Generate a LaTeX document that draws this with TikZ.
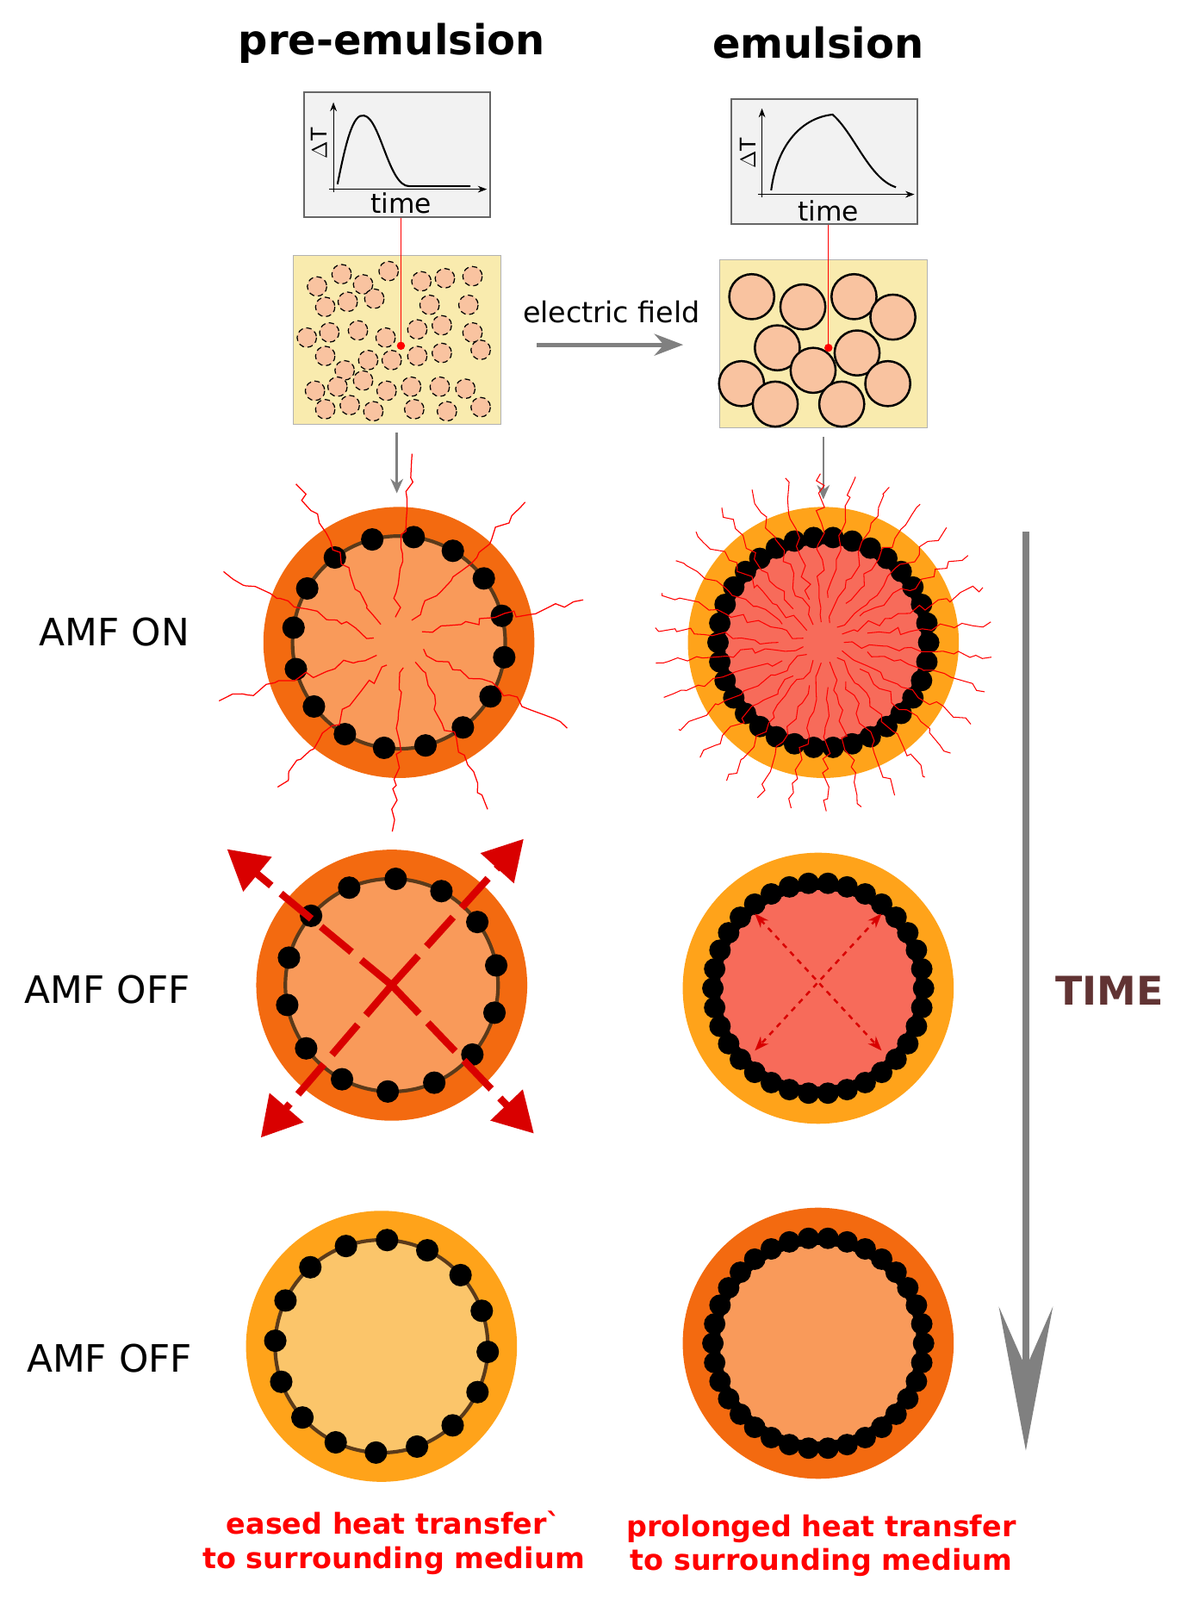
\documentclass[tikz,border=0pt]{standalone}
\usepackage{fontspec}
\setmainfont{DejaVu Sans}
\usetikzlibrary{arrows.meta,decorations.pathmorphing}
\definecolor{hotred}{HTML}{F36A10}
\definecolor{amber}{HTML}{FFA31A}
\definecolor{salmon}{HTML}{F99A5A}
\definecolor{coral}{HTML}{F76B5A}
\definecolor{paleor}{HTML}{FBC56A}
\definecolor{sand}{HTML}{F9EBAE}
\definecolor{drop}{HTML}{F9C3A0}
\definecolor{ring}{HTML}{5A3A1A}
\tikzstyle{disc}=[circle,inner sep=0pt,minimum size=5.3cm]
\tikzstyle{dot}=[fill=black]
\tikzstyle{plot}=[draw=gray!80!black,fill=gray!10,line width=1pt,minimum width=3.64cm,minimum height=2.44cm]
\tikzstyle{sample}=[draw=gray!60,fill=sand,minimum width=4.06cm,minimum height=3.3cm]
\tikzstyle{feed}=[gray,line width=1.2pt,-{Stealth[length=8pt,width=7pt]}]
\tikzstyle{amf}=[font=\fontsize{21}{24}\selectfont]
\tikzstyle{heat}=[red,font=\bfseries\fontsize{16}{19}\selectfont,align=center]
\tikzstyle{wave}=[red,line width=0.6pt,decorate,decoration={random steps,segment length=5pt,amplitude=2.5pt}]

\begin{document}
\begin{tikzpicture}[x=0.02cm,y=-0.02cm]
\useasboundingbox (0,0) rectangle (1160,1564);

% titles
\node (tpre) at (383,42) [font=\bfseries\fontsize{23}{27}\selectfont] {pre-emulsion};
\node (temu) at (800,42) [font=\bfseries\fontsize{23}{27}\selectfont] {emulsion};

% plots
\node (gl) at (388,151) [plot] {};
\node (gr) at (806,158) [plot] {};
\draw[-{Stealth[length=5pt]}] (326,188) -- (326,100);
\draw[-{Stealth[length=5pt]}] (322,185) -- (476,185);
\draw[line width=1pt] (330,180) .. controls (338,140) and (345,110) .. (356,113)
  .. controls (372,116) and (380,182) .. (400,182) -- (460,182);
\node at (312,140) [rotate=90,font=\fontsize{12}{14}\selectfont] {$\Delta$T};
\node at (392,199) [font=\fontsize{15}{17}\selectfont] {time};
\draw[-{Stealth[length=5pt]}] (745,193) -- (745,106);
\draw[-{Stealth[length=5pt]}] (741,190) -- (894,190);
\draw[line width=1pt] (754,186) .. controls (760,140) and (785,115) .. (814,112)
  .. controls (835,130) and (850,175) .. (876,183);
\node at (731,150) [rotate=90,font=\fontsize{12}{14}\selectfont] {$\Delta$T};
\node at (810,206) [font=\fontsize{15}{17}\selectfont] {time};

% samples
\node (sl) at (388,332) [sample] {};
\node (sr) at (805,336) [sample] {};
\foreach \p in {(310,280),(334,268),(355,278),(380,265),(412,275),(435,272),(462,270),
  (318,300),(340,295),(366,292),(420,298),(458,298),
  (300,330),(322,325),(350,323),(377,330),(408,322),(432,318),(462,325),
  (318,348),(337,362),(360,352),(383,352),(408,348),(432,345),(470,342),
  (308,382),(330,378),(355,372),(378,382),(402,378),(430,378),(455,380),
  (318,400),(342,396),(365,402),(405,400),(437,402),(470,398)}
  \draw[fill=drop,densely dashed,line width=0.6pt] \p circle (9.5);
\foreach \p in {(735,290),(785,300),(835,290),(873,310),(760,340),(838,345),
  (725,375),(795,362),(868,375),(758,395),(823,395)}
  \draw[fill=drop,line width=1.2pt] \p circle (22);
\coordinate (pl) at (392,338);
\coordinate (pr) at (810,340);
\draw[red] (gl.south -| pl) -- (pl);
\draw[red] (gr.south -| pr) -- (pr);
\fill[red] (pl) circle (4);
\fill[red] (pr) circle (4);

% electric field
\coordinate (ef1) at (525,337);
\coordinate (ef2) at (668,337);
\draw[gray,line width=2.5pt,-{Stealth[length=16pt,width=12pt]}] (ef1) -- (ef2);
\node at (598,305) [font=\fontsize{16}{19}\selectfont] {electric field};

% droplets
\node (l1) at (390,628) [disc,fill=hotred] {};
\node (l2) at (383,963) [disc,fill=hotred] {};
\node (l3) at (373,1316) [disc,fill=amber] {};
\node (r1) at (805,628) [disc,fill=amber] {};
\node (r2) at (800,966) [disc,fill=amber] {};
\node (r3) at (800,1313) [disc,fill=hotred] {};

\draw[feed] ([yshift=-0.16cm]sl.south) -- ([yshift=0.26cm]sl.south |- l1.north);
\draw[feed] ([yshift=-0.16cm]sr.south) -- ([yshift=0.14cm]sr.south |- r1.north);

% inner cores, sparse shells
\foreach \c/\col/\n/\o in {l1/salmon/16/8,l2/salmon/14/15,l3/paleor/16/3}{
  \draw[ring,line width=2pt,fill=\col] (\c) circle (104);
  \foreach \i in {1,...,\n}
    \fill[dot] ([shift={(\o+\i*360/\n:104)}]\c.center) circle (11);
}
% inner cores, dense shells
\foreach \c/\col in {r1/coral,r2/coral,r3/salmon}{
  \fill[black] (\c) circle (104);
  \fill[\col] (\c) circle (96);
  \foreach \i in {1,...,34}
    \fill[dot] ([shift={(\i*360/34:103)}]\c.center) circle (10.5);
}

% heating
\foreach \a in {15,50,80,118,150,190,225,262,300,335}
  \draw[wave] ([shift={(\a:25)}]l1.center) -- ([shift={(\a+12:185)}]l1.center);
\foreach \a in {0,12,...,348}
  \draw[wave,line width=0.5pt] ([shift={(\a:{20+mod(\a,24)*2})}]r1.center) -- ([shift={(\a+5:165)}]r1.center);

% dissipation
\tikzstyle{blast}=[red!85!black,line width=4pt,dash pattern=on 22pt off 7pt,-{Triangle[length=22pt,width=24pt]}]
\coordinate (b1) at (222,830);
\coordinate (b2) at (512,820);
\coordinate (b3) at (255,1112);
\coordinate (b4) at (522,1108);
\foreach \b in {b1,b2,b3,b4}
  \draw[blast] (l2.center) -- (\b);
\coordinate (s1) at (738,893);
\coordinate (s2) at (862,893);
\coordinate (s3) at (738,1027);
\coordinate (s4) at (862,1027);
\draw[red!85!black,dashed,line width=1.2pt,{Stealth[length=8pt]}-{Stealth[length=8pt]}] (s1) -- (s4);
\draw[red!85!black,dashed,line width=1.2pt,{Stealth[length=8pt]}-{Stealth[length=8pt]}] (s2) -- (s3);

% labels
\node at (112,618) [amf] {AMF ON};
\node at (105,967) [amf] {AMF OFF};
\node at (107,1328) [amf] {AMF OFF};
\node at (385,1508) [heat] {eased heat transfer\textasciigrave\\to surrounding medium};
\node at (803,1511) [heat] {prolonged heat transfer\\to surrounding medium};

% time
\coordinate (t1) at (1003,520);
\coordinate (t2) at (1003,1418);
\draw[gray,line width=4pt,-{Stealth[length=80pt,width=30pt,inset=34pt]}] (t1) -- (t2);
\node at (1085,968) [font=\bfseries\fontsize{22}{26}\selectfont,text=black!70!red!60!gray] {TIME};
\end{tikzpicture}
\end{document}
